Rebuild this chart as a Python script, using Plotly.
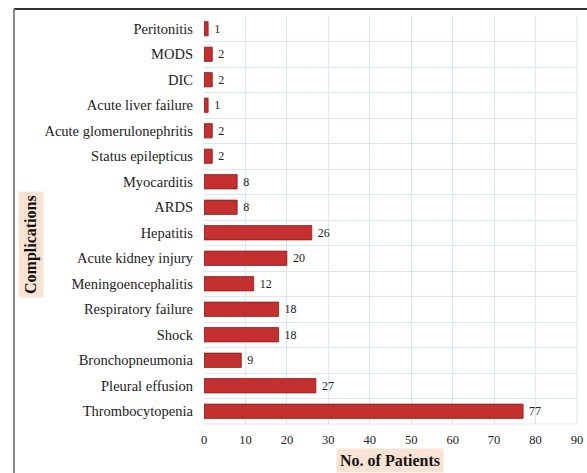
import plotly.graph_objects as go

complications = ["Peritonitis", "MODS", "DIC", "Acute liver failure",
                 "Acute glomerulonephritis", "Status epilepticus", "Myocarditis",
                 "ARDS", "Hepatitis", "Acute kidney injury", "Meningoencephalitis",
                 "Respiratory failure", "Shock", "Bronchopneumonia",
                 "Pleural effusion", "Thrombocytopenia"]
patients = [1, 2, 2, 1, 2, 2, 8, 8, 26, 20, 12, 18, 18, 9, 27, 77]
x_ticks = [0, 10, 20, 30, 40, 50, 60, 70, 80, 90]

FONT = "Liberation Serif"

fig = go.Figure(go.Bar(
    x=patients, y=complications, orientation="h",
    marker=dict(color="#c3302f", line=dict(color="#8e1b1b", width=0.8)),
    width=0.56,
    text=[" " + str(v) for v in patients], textposition="outside",
    textfont=dict(family=FONT, size=12, color="#222"),
    cliponaxis=False,
))

L, R, T, B = 204, 10, 16, 49
W, H = 587, 473
pw, ph = W - L - R, H - T - B

def px_x(px):
    return (px - L) / pw

def px_y(py):
    return (H - B - py) / ph

fig.update_layout(
    width=W, height=H,
    margin=dict(l=L, r=R, t=T, b=B, pad=0, autoexpand=False),
    paper_bgcolor="white", plot_bgcolor="white",
    showlegend=False,
    font=dict(family=FONT, size=13, color="#222"),
    xaxis=dict(range=[0, 90], tickvals=x_ticks, showgrid=True,
               gridcolor="#d8e6f5", gridwidth=1, zeroline=False,
               showline=False, ticks="", tickfont=dict(family=FONT, size=12.5),
               ticklabelstandoff=6, automargin=False),
    yaxis=dict(autorange="reversed", type="category", tickson="boundaries",
               showgrid=True, gridcolor="#d8e6f5", gridwidth=1,
               showline=False, ticks="", tickfont=dict(family=FONT, size=14.5),
               ticklabelstandoff=10, automargin=False),
    shapes=[
        dict(type="line", xref="paper", yref="paper",
             x0=px_x(14), x1=px_x(590), y0=px_y(9), y1=px_y(9),
             line=dict(color="#333", width=2)),
        dict(type="line", xref="paper", yref="paper",
             x0=px_x(14), x1=px_x(14), y0=px_y(9), y1=px_y(480),
             line=dict(color="#888", width=2)),
        dict(type="line", xref="paper", yref="paper",
             x0=0, x1=1, y0=0, y1=0, line=dict(color="#d8e6f5", width=1)),
        dict(type="line", xref="paper", yref="paper",
             x0=1, x1=1, y0=0, y1=1, line=dict(color="#d8e6f5", width=1)),
    ],
    annotations=[
        dict(text="<b>Complications</b>", xref="paper", yref="paper",
             x=px_x(31), y=px_y(245), xanchor="center", yanchor="middle",
             textangle=-90, showarrow=False,
             font=dict(family=FONT, size=16, color="#111"),
             bgcolor="#fbe3d3", borderpad=3),
        dict(text="<b>No. of Patients</b>", xref="paper", yref="paper",
             x=px_x(390), y=px_y(461), xanchor="center", yanchor="middle",
             showarrow=False,
             font=dict(family=FONT, size=16, color="#111"),
             bgcolor="#fbe3d3", borderpad=3),
    ],
)

fig.write_html("out.html", config={"displayModeBar": False},
               post_script="document.body.style.margin='0';document.body.style.overflow='hidden';")
